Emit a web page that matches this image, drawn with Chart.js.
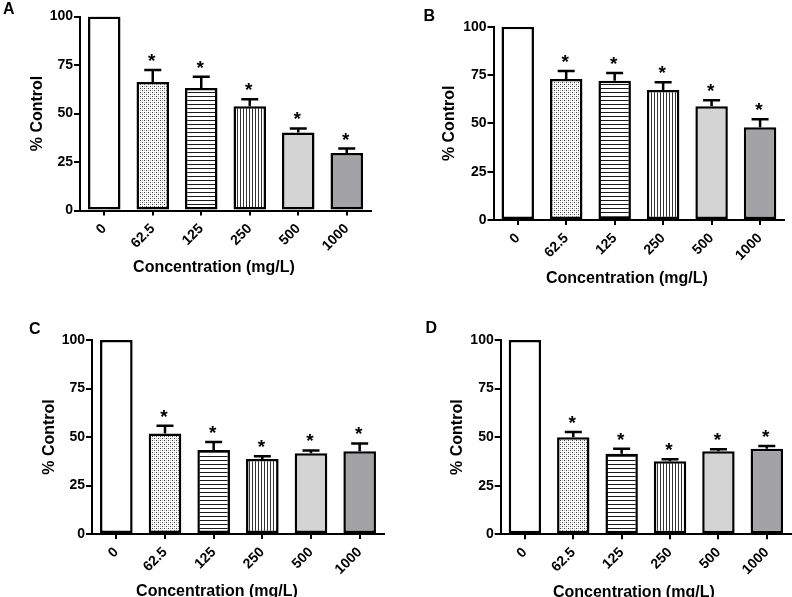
<!DOCTYPE html>
<html><head><meta charset="utf-8">
<script src="https://cdn.jsdelivr.net/npm/chart.js@4/dist/chart.umd.min.js"></script>
<style>
html,body{margin:0;padding:0;background:#fff;}
#wrap{position:relative;width:792px;height:597px;overflow:hidden;background:#fff;}
canvas{position:absolute;left:0;top:0;}
</style></head><body>
<div id="wrap">
<canvas id="cA" width="792" height="597"></canvas>
<canvas id="cB" width="792" height="597"></canvas>
<canvas id="cC" width="792" height="597"></canvas>
<canvas id="cD" width="792" height="597"></canvas>
</div>
<script>
// ---------- data ----------
const categories = ['0', '62.5', '125', '250', '500', '1000'];
const yTicks = [0, 25, 50, 75, 100];
const significance = ['', '*', '*', '*', '*', '*'];
const xTitle = 'Concentration (mg/L)';
const yTitle = '% Control';

const meansA = [100, 66.2, 63.2, 53.8, 40.2, 29.7];
const semA   = [0, 6.2, 5.7, 3.5, 2.1, 2.2];
const meansB = [100, 72.9, 72.0, 67.2, 58.9, 48.0];
const semB   = [0, 4.2, 4.0, 4.0, 3.0, 4.1];
const meansC = [100, 51.8, 43.3, 38.6, 41.6, 42.6];
const semC   = [0, 4.0, 4.1, 1.5, 1.5, 4.1];
const meansD = [100, 50.0, 41.4, 37.6, 42.7, 44.0];
const semD   = [0, 2.6, 2.6, 1.0, 1.1, 1.5];

// ---------- layout / style ----------
const FONT = "'Liberation Sans', Arial, sans-serif";
const YW = 60, XH = 50;
const panels = [
  {id:'cA', letter:'A', means:meansA, sem:semA, area:{l:80, r:371, t:16.5, b:210.5}, lx:3, ly:14, xdx:-11.5, xdy:61, ydx:-42},
  {id:'cB', letter:'B', means:meansB, sem:semB, area:{l:493.5, r:784.3, t:26.7, b:220}, lx:423.5, ly:21, xdx:-12, xdy:63, ydx:-43.5},
  {id:'cC', letter:'C', means:meansC, sem:semC, area:{l:92, r:384, t:340, b:534}, lx:29, ly:333.5, xdx:-21, xdy:61.5, ydx:-42.5},
  {id:'cD', letter:'D', means:meansD, sem:semD, area:{l:500.7, r:791, t:340, b:534.3}, lx:425.5, ly:333, xdx:-12, xdy:63, ydx:-43}
];

function makePattern(ctx, kind) {
  const c = document.createElement('canvas');
  const g = c.getContext('2d');
  if (kind === 'dots') {
    c.width = 4; c.height = 4;
    g.fillStyle = '#fff'; g.fillRect(0, 0, 4, 4);
    g.fillStyle = '#3a3a3a'; g.fillRect(0, 0, 1, 1); g.fillRect(2, 2, 1, 1);
    g.fillStyle = '#b5b5b5'; g.fillRect(2, 0, 1, 1); g.fillRect(0, 2, 1, 1);
  } else if (kind === 'hlines') {
    c.width = 4; c.height = 4;
    g.fillStyle = '#fff'; g.fillRect(0, 0, 4, 4);
    g.fillStyle = '#1a1a1a'; g.fillRect(0, 0, 4, 1);
  } else {
    c.width = 3; c.height = 3;
    g.fillStyle = '#fff'; g.fillRect(0, 0, 3, 3);
    g.fillStyle = '#333'; g.fillRect(0, 0, 1, 3);
  }
  return ctx.createPattern(c, 'repeat');
}

function extrasPlugin(p) {
  return {
    id: 'extras' + p.letter,
    afterDatasetsDraw(chart) {
      const {ctx, chartArea: ca, scales: {x, y}} = chart;
      ctx.save();
      ctx.strokeStyle = '#000';
      ctx.lineWidth = 2.5;
      ctx.fillStyle = '#000';
      ctx.font = 'bold 19px ' + FONT;
      ctx.textAlign = 'center';
      ctx.textBaseline = 'alphabetic';
      p.means.forEach((m, i) => {
        const cx = x.getPixelForValue(i);
        const yTop = y.getPixelForValue(m);
        const yCap = y.getPixelForValue(m + p.sem[i]);
        if (p.sem[i] > 0) {
          ctx.beginPath();
          ctx.moveTo(cx, yTop); ctx.lineTo(cx, yCap);
          ctx.moveTo(cx - 8.5, yCap); ctx.lineTo(cx + 8.5, yCap);
          ctx.stroke();
        }
        if (significance[i]) ctx.fillText(significance[i], cx - 1, yCap - 3);
      });
      // axis titles
      ctx.font = 'bold 16px ' + FONT;
      ctx.textAlign = 'center';
      ctx.textBaseline = 'alphabetic';
      ctx.fillText(xTitle, (ca.left + ca.right) / 2 + p.xdx, ca.bottom + p.xdy);
      ctx.save();
      ctx.translate(ca.left + p.ydx, (ca.top + ca.bottom) / 2);
      ctx.rotate(-Math.PI / 2);
      ctx.textBaseline = 'middle';
      ctx.fillText(yTitle, 0, 0);
      ctx.restore();
      // panel letter
      ctx.font = 'bold 16px ' + FONT;
      ctx.textAlign = 'left';
      ctx.textBaseline = 'alphabetic';
      ctx.fillText(p.letter, p.lx, p.ly);
      ctx.restore();
    }
  };
}

panels.forEach(p => {
  const canvas = document.getElementById(p.id);
  const ctx = canvas.getContext('2d');
  const fills = ['#ffffff', makePattern(ctx, 'dots'), makePattern(ctx, 'hlines'),
                 makePattern(ctx, 'vlines'), '#d4d4d4', '#a3a3a5'];
  const tickFont = {family: FONT, weight: 'bold', size: 14};
  new Chart(ctx, {
    type: 'bar',
    data: {
      labels: categories,
      datasets: [{
        data: p.means,
        backgroundColor: fills,
        borderColor: '#000',
        borderWidth: 2.5,
        borderSkipped: false,
        barPercentage: 0.67,
        categoryPercentage: 1.0
      }]
    },
    options: {
      responsive: false,
      animation: false,
      devicePixelRatio: 1,
      layout: {padding: {left: p.area.l - YW, right: 792 - p.area.r, top: p.area.t, bottom: 597 - p.area.b - XH}},
      plugins: {legend: {display: false}, tooltip: {enabled: false}, title: {display: false}},
      scales: {
        x: {
          type: 'category',
          offset: true,
          grid: {display: true, drawOnChartArea: false, drawTicks: true, tickLength: 5, color: '#000', lineWidth: 2, offset: false},
          border: {display: true, color: '#000', width: 2},
          ticks: {color: '#000', font: tickFont, minRotation: 45, maxRotation: 45, autoSkip: false, padding: 5},
          afterFit(s) { s.height = XH; }
        },
        y: {
          min: 0, max: 100,
          afterBuildTicks(s) { s.ticks = yTicks.map(v => ({value: v})); },
          grid: {display: true, drawOnChartArea: false, drawTicks: true, tickLength: 6, color: '#000', lineWidth: 2},
          border: {display: true, color: '#000', width: 2},
          ticks: {color: '#000', font: tickFont, padding: 1},
          afterFit(s) { s.width = YW; }
        }
      }
    },
    plugins: [extrasPlugin(p)]
  });
});
</script>
</body></html>
